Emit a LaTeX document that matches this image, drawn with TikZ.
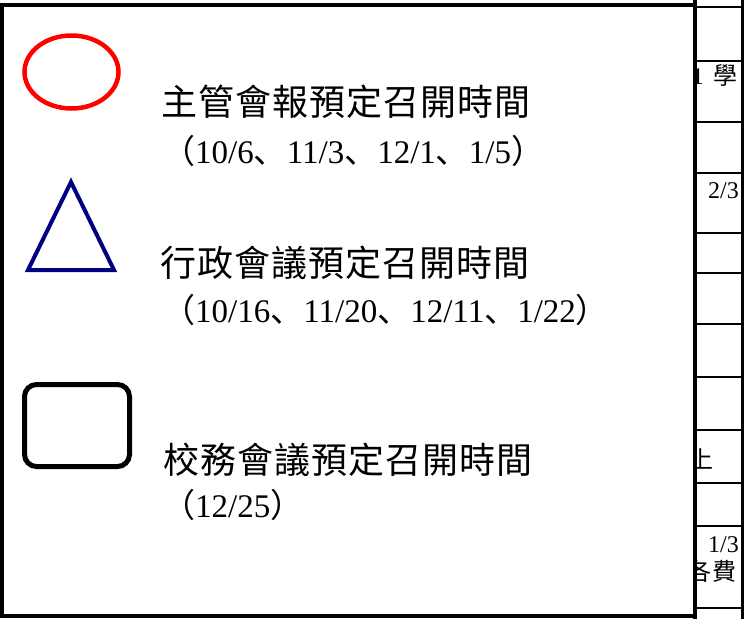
\documentclass[tikz,border=0pt]{standalone}
\usepackage{fontspec}
\setmainfont{Liberation Serif}
\newfontfamily\cjk{Noto Sans CJK TC}
\newfontfamily\cjkp{Noto Sans CJK JP}
\newcommand\gp{\kern1pt}
\newcommand\pu[1]{{\cjkp #1}}
\tikzset{
  head/.style={anchor=base west, inner sep=0pt, font=\cjk\fontsize{36}{40}\selectfont},
  dates/.style={anchor=base west, inner sep=0pt, font=\fontsize{33}{38}\selectfont},
  cell/.style={anchor=base east, inner sep=0pt, font=\fontsize{24}{28}\selectfont},
  rulel/.style={line width=2pt},
  frame/.style={line width=4pt, draw=black, fill=white},
}
\begin{document}
\begin{tikzpicture}[x=1pt,y=-1pt]
\useasboundingbox (0,0) rectangle (747,619);
\fill[white] (0,0) rectangle (747,619);
% partial table on the right
\node[cell] (t1) at (738,84) {1\kern10pt{\cjk 學}};
\node[cell] (t2) at (739,198) {2/3};
\node[cell, font=\cjk\fontsize{24}{28}\selectfont] (t3) at (714,468) {上};
\node[cell] (t4) at (739,552) {1/3};
\node[cell, font=\cjk\fontsize{24}{28}\selectfont] (t5) at (737,580) {各\kern1pt 費};
\foreach \yy in {7,61,122,173,233,273,324,377,430,483,526,608}
  \draw[rulel] (695,\yy) -- (742,\yy);
\draw[line width=3.5pt] (742.5,0) -- (742.5,619);
\draw[line width=4pt] (695,0) -- (695,619);
% main box
\draw[frame] (2,5) rectangle (695,615.5);
% legend shapes
\draw[red, line width=4.5pt] (71.5,72) ellipse [x radius=47, y radius=36.5];
\draw[draw={rgb,255:red,0;green,0;blue,128}, line width=4pt, line join=miter]
  (71,182) -- (114,270) -- (28,270) -- cycle;
\draw[line width=5pt, rounded corners=12pt] (24.5,384.5) rectangle (129.5,466.5);
% texts
\node[head] (h1) at (161.5,115) {主\gp 管\gp 會\gp 報\gp 預\gp 定\gp 召\gp 開\gp 時\gp 間};
\node[dates] (d1) at (162,163) {\pu{（}10/6\pu{、}11/3\pu{、}12/1\pu{、}1/5\pu{）}};
\node[head] (h2) at (160.5,276) {行\gp 政\gp 會\gp 議\gp 預\gp 定\gp 召\gp 開\gp 時\gp 間};
\node[dates] (d2) at (162,322) {\pu{（}10/16\pu{、}11/20\pu{、}12/11\pu{、}1/22\pu{）}};
\node[head] (h3) at (163.5,473) {校\gp 務\gp 會\gp 議\gp 預\gp 定\gp 召\gp 開\gp 時\gp 間};
\node[dates] (d3) at (162,517) {\pu{（}12/25\pu{）}};
\end{tikzpicture}
\end{document}
